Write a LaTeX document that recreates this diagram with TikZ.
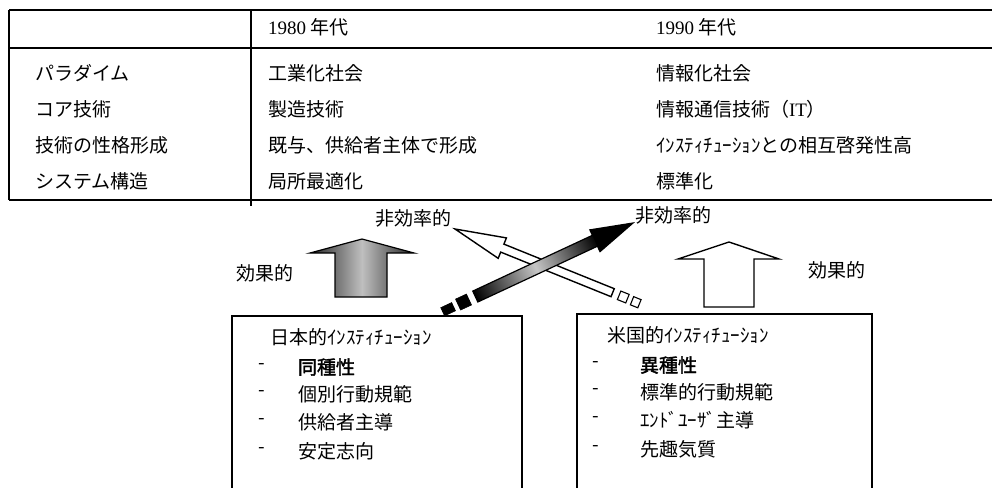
\documentclass[tikz,border=0pt]{standalone}
\usepackage{fontspec}
\setmainfont{Liberation Serif}
\newfontfamily\jp{Noto Sans CJK JP}
\newfontfamily\jpb[FakeBold=2]{Noto Sans CJK JP}
\begin{document}
\begin{tikzpicture}[x=1pt,y=-1pt,
  every node/.style={inner sep=0pt, outer sep=0pt, anchor=west, font={\jp\fontsize{19}{22}\selectfont}},
  tline/.style={line width=1.4pt},
  boxstyle/.style={draw, line width=1.2pt, fill=white},
  whitearrow/.style={draw, line width=1.4pt, fill=white, line join=miter},
  darkarrow/.style={draw, line width=1.2pt, line join=miter},
  darksq/.style={fill=black, draw=black, line width=0.6pt},
  whitesq/.style={fill=white, draw=black, line width=1.1pt}]
\useasboundingbox (0,0) rectangle (992,487);

% ---- table ----
\coordinate (tTL) at (9,10);   \coordinate (tTR) at (992,10);
\coordinate (tHL) at (9,48);   \coordinate (tHR) at (992,48);
\coordinate (tBL) at (9,200);  \coordinate (tBR) at (992,200);
\coordinate (dTop) at (251,10); \coordinate (dBot) at (251,206);
\draw[tline] (tTL) -- (tTR);
\draw[tline] (tHL) -- (tHR);
\draw[tline] (tBL) -- (tBR);
\draw[tline] (tTL) -- (tBL);
\draw[tline] (dTop) -- (dBot);

\node (h1) at (268,27) {{\rmfamily 1980} 年代};
\node (h2) at (656,27) {{\rmfamily 1990} 年代};

\node (r1a) at (35,73)  {パラダイム};
\node (r2a) at (35,109) {コア技術};
\node (r3a) at (35,145) {技術の性格形成};
\node (r4a) at (35,181) {システム構造};

\node (r1b) at (268,73)  {工業化社会};
\node (r2b) at (268,109) {製造技術};
\node (r3b) at (268,145) {既与、供給者主体で形成};
\node (r4b) at (268,181) {局所最適化};

\node (r1c) at (656,73)  {情報化社会};
\node (r2c) at (656,109) {情報通信技術（{\rmfamily IT}）};
\node (r3c) at (656,145) {ｲﾝｽﾃｨﾁｭｰｼｮﾝとの相互啓発性高};
\node (r4c) at (656,181) {標準化};

% ---- labels ----
\node (effL) at (236,273) {効果的};
\node (effR) at (808,270) {効果的};
\node (ineffL) at (375,218) {非効率的};
\node (ineffR) at (635,215) {非効率的};

% ---- vertical block arrows ----
\path[left color=black!85, right color=black!85, middle color=gray!50]
  (335,297) -- (335,253) -- (310,253) -- (362,239) -- (414,253) -- (387,253) -- (387,297) -- cycle;
\draw[darkarrow] (335,297) -- (335,253) -- (310,253) -- (362,239) -- (414,253) -- (387,253) -- (387,297) -- cycle;

\path[whitearrow]
  (704,307) -- (704,259) -- (678,259) -- (729,242) -- (779,259) -- (754,259) -- (754,307) -- cycle;

% ---- diagonal white arrow (points up-left) ----
\coordinate (wTip) at (455,229);
\begin{scope}[transform canvas={shift={(wTip)}, rotate=-22}]
  \path[whitearrow] (0,0) -- (51,-11) -- (51,-4.3) -- (170,-4.3) -- (170,4.3) -- (51,4.3) -- (51,11) -- cycle;
  \path[whitesq] (177,-4.6) -- (186,-4.6) -- (186,4.6) -- (177,4.6) -- cycle;
  \path[whitesq] (191,-4.2) -- (199,-4.2) -- (199,4.6) -- (191,4.6) -- cycle;
\end{scope}

% ---- diagonal dark arrow (points up-right) ----
\coordinate (dTip) at (633,223);
\begin{scope}[transform canvas={shift={(dTip)}, rotate=205}]
  \path[left color=black, right color=black, middle color=gray!45]
    (40,-6) -- (174,-6) -- (174,6) -- (40,6) -- cycle;
  \path[fill=black] (0,0) -- (42,-12) -- (42,6) -- (42,12) -- cycle;
  \draw[darkarrow] (0,0) -- (42,-12) -- (42,-6) -- (174,-6) -- (174,6) -- (42,6) -- (42,12) -- cycle;
  \path[darksq] (181,-6) -- (193,-6) -- (193,6) -- (181,6) -- cycle;
  \path[darksq] (198,-4.5) -- (210,-4.5) -- (210,4.5) -- (198,4.5) -- cycle;
\end{scope}

% ---- boxes ----
\coordinate (jbTL) at (232,316); \coordinate (jbBR) at (522,495);
\coordinate (abTL) at (577,314); \coordinate (abBR) at (872,495);
\draw[boxstyle] (jbTL) rectangle (jbBR);
\draw[boxstyle] (abTL) rectangle (abBR);

\node (jT) at (270,337) {日本的ｲﾝｽﾃｨﾁｭｰｼｮﾝ};
\node (jd1) at (258,367) {-}; \node (j1) at (298,367) {\jpb 同種性};
\node (jd2) at (258,394) {-}; \node (j2) at (298,394) {個別行動規範};
\node (jd3) at (258,422) {-}; \node (j3) at (298,422) {供給者主導};
\node (jd4) at (258,451) {-}; \node (j4) at (298,451) {安定志向};

\node (aT) at (607,335) {米国的ｲﾝｽﾃｨﾁｭｰｼｮﾝ};
\node (ad1) at (592,365) {-}; \node (a1) at (640,365) {\jpb 異種性};
\node (ad2) at (592,392) {-}; \node (a2) at (640,392) {標準的行動規範};
\node (ad3) at (592,420) {-}; \node (a3) at (640,420) {ｴﾝﾄﾞﾕｰｻﾞ主導};
\node (ad4) at (592,449) {-}; \node (a4) at (640,449) {先趣気質};
\end{tikzpicture}
\end{document}
